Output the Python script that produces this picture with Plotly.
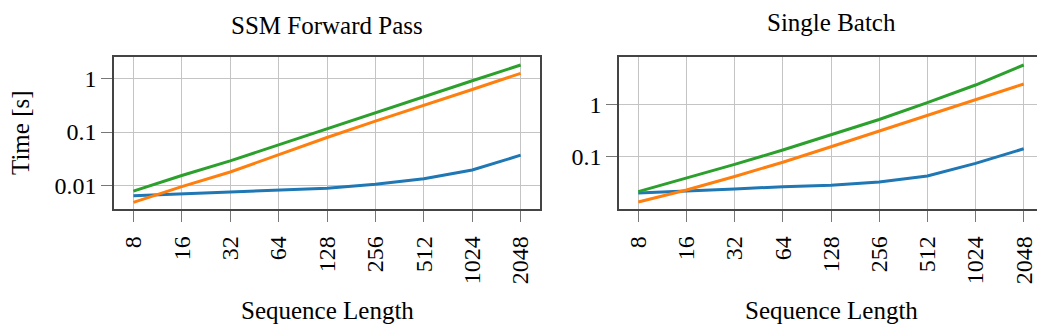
import math

import plotly.graph_objects as go
from plotly.subplots import make_subplots

# sequence lengths (x) and timings in seconds
seq_len = [8, 16, 32, 64, 128, 256, 512, 1024, 2048]
seq_labels = [str(v) for v in seq_len]

fwd_blue = [0.0065, 0.0071, 0.0076, 0.0083, 0.0090, 0.0106, 0.0135, 0.0196, 0.037]
fwd_orange = [0.0049, 0.0096, 0.018, 0.038, 0.079, 0.16, 0.31, 0.62, 1.24]
fwd_green = [0.0079, 0.0155, 0.029, 0.058, 0.115, 0.23, 0.46, 0.90, 1.77]

single_blue = [0.0197, 0.0219, 0.0236, 0.026, 0.0277, 0.032, 0.042, 0.073, 0.14]
single_orange = [0.0132, 0.0225, 0.041, 0.077, 0.153, 0.307, 0.62, 1.25, 2.46]
single_green = [0.021, 0.038, 0.070, 0.132, 0.257, 0.51, 1.08, 2.35, 5.7]

titles = ["SSM Forward Pass", "Single Batch"]
y_ticks_left = [0.01, 0.1, 1]
y_ticks_right = [0.1, 1]

BLUE = "#1f77b4"
ORANGE = "#ff7f0e"
GREEN = "#2ca02c"
GRID = "#c4c4c4"
FRAME = "#444444"
FONT = "Liberation Serif, Times New Roman, serif"

W, H = 1045, 331
OFF = 8  # the page body has an 8px margin


def px_x(p):
    return (p - OFF) / W


def px_y(p):
    return 1 - (p - OFF) / H


fig = make_subplots(rows=1, cols=2)

for col, series in [(1, [fwd_blue, fwd_orange, fwd_green]),
                    (2, [single_blue, single_orange, single_green])]:
    for ys, c in zip(series, [BLUE, ORANGE, GREEN]):
        fig.add_trace(go.Scatter(x=seq_len, y=ys, mode="lines",
                                 line=dict(color=c, width=3), showlegend=False),
                      row=1, col=col)

pad = 0.4 * math.log10(2)
xr = [math.log10(seq_len[0]) - pad, math.log10(seq_len[-1]) + pad]

common_x = dict(type="log", range=xr, tickvals=seq_len, ticktext=seq_labels,
                tickangle=-90, showgrid=True, gridcolor=GRID, gridwidth=1,
                showline=True, mirror=True, linecolor=FRAME, linewidth=1.5,
                ticks="outside", ticklen=11, tickcolor="#777777", tickwidth=1,
                ticklabelstandoff=5,
                tickfont=dict(family=FONT, size=24, color="black"), zeroline=False)
common_y = dict(type="log", showgrid=True, gridcolor=GRID, gridwidth=1,
                showline=True, mirror=True, linecolor=FRAME, linewidth=1.5,
                ticks="outside", ticklen=11, tickcolor="#777777", tickwidth=1,
                tickfont=dict(family=FONT, size=24, color="black"), zeroline=False)

fig.update_xaxes(**common_x, domain=[px_x(114), px_x(540)], row=1, col=1)
fig.update_xaxes(**common_x, domain=[px_x(619), px_x(1043)], row=1, col=2)
fig.update_yaxes(**common_y, domain=[px_y(209), px_y(57)], range=[-2.434, 0.397],
                 tickvals=y_ticks_left, ticktext=["0.01", "0.1", "1"], row=1, col=1)
fig.update_yaxes(**common_y, domain=[px_y(209), px_y(57)], range=[-2.013, 0.91],
                 tickvals=y_ticks_right, ticktext=["0.1", "1"], row=1, col=2)

ann = [
    dict(text=titles[0], x=px_x(327), y=px_y(25)),
    dict(text=titles[1], x=px_x(831), y=px_y(23)),
    dict(text="Sequence Length", x=px_x(327), y=px_y(310)),
    dict(text="Sequence Length", x=px_x(831), y=px_y(310)),
    dict(text="Time [s]", x=px_x(20), y=px_y(133), textangle=-90),
]
for a in ann:
    fig.add_annotation(**a, xref="paper", yref="paper", showarrow=False,
                       xanchor="center", yanchor="middle",
                       font=dict(family=FONT, size=25, color="black"))

fig.update_layout(width=W, height=H, margin=dict(l=0, r=0, t=0, b=0),
                  paper_bgcolor="white", plot_bgcolor="white",
                  font=dict(family=FONT, size=24, color="black"))

fig.write_html("out.html")
